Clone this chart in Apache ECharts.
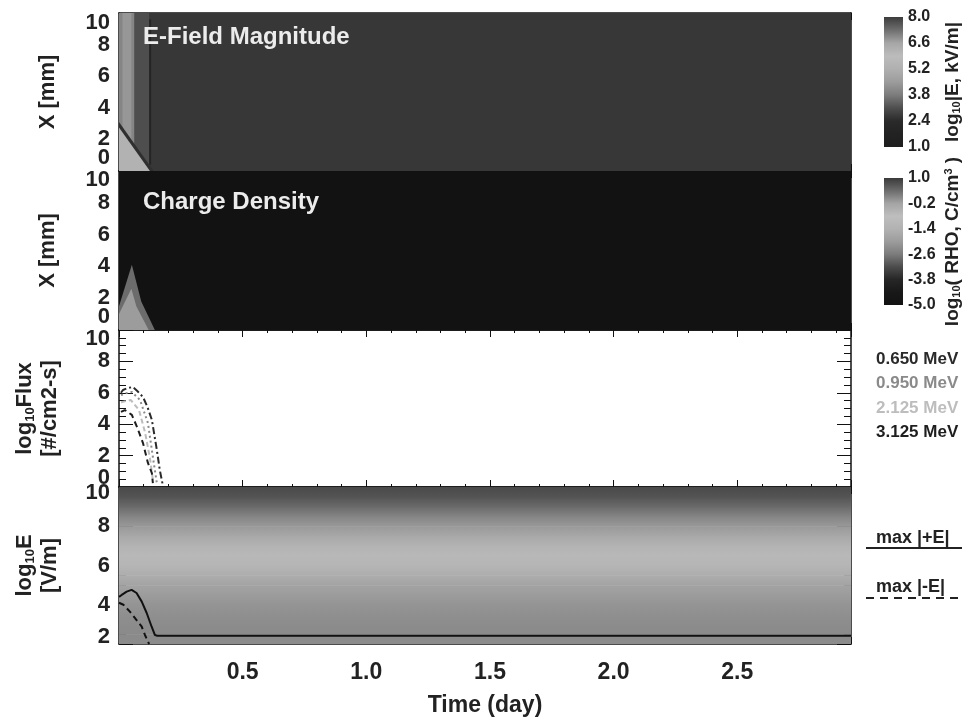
<!DOCTYPE html>
<html>
<head>
<meta charset="utf-8">
<script src="https://cdn.jsdelivr.net/npm/echarts@6/dist/echarts.min.js"></script>
<style>html,body{margin:0;padding:0;background:#fff}#c{width:971px;height:720px}</style>
</head>
<body>
<div id="c"></div>
<script>
// ---------------- data ----------------
const timeMax = 2.96;            // days
// Panel 1 : E-field magnitude, regions as polygons [time(day), X(mm)]
const eFieldRegions = [
  [[0,0],[2.96,0],[2.96,10],[0,10]],
  [[0.062,0],[0.122,0],[0.122,10],[0.062,10]],
  [[0,0],[0.062,0],[0.062,10],[0,10]],
  [[0.014,0],[0.05,0],[0.05,10],[0.014,10]],
  [[0.122,0.4],[0.13,0.4],[0.13,9.6],[0.122,9.6]],
  [[0,0],[0.14,0],[0,3.1]],
  [[0,0],[0.125,0],[0,2.75]]
];
const eFieldValues = [2.65, 3.1, 4.0, 4.4, 2.0, 2.5, 5.3];   // log10|E| kV/m
// Panel 2 : charge density regions
const rhoRegions = [
  [[0,0],[2.96,0],[2.96,10],[0,10]],
  [[0,0],[0.145,0],[0.09,1.8],[0.052,4.1],[0.03,3.0],[0,1.5]],
  [[0,0],[0.12,0],[0.07,1.5],[0.05,2.6],[0,1.0]]
];
const rhoValues = [-5.0, -2.8, -2.0];                        // log10 RHO C/cm3
// Panel 3 : flux curves [time, log10 flux]
const flux0650 = [[0.008,6.0],[0.016,6.18],[0.035,6.3],[0.056,6.37],[0.075,6.1],[0.097,5.73],[0.115,5.1],[0.133,4.27],[0.153,2.36],[0.165,1.08],[0.177,0.13]];
const flux0950 = [[0.008,5.85],[0.03,5.98],[0.052,6.05],[0.085,5.54],[0.117,4.08],[0.137,1.91],[0.153,0.25]];
const flux2125 = [[0.008,5.4],[0.048,5.54],[0.081,4.9],[0.105,3.5],[0.125,1.85],[0.137,0.45]];
const flux3125 = [[0.008,4.78],[0.024,4.9],[0.052,4.59],[0.073,3.82],[0.097,2.8],[0.117,1.53],[0.133,0.89],[0.137,0.25]];
// Panel 4 : max |E| curves [time, log10 E V/m]
const maxPosE = [[0,4.4],[0.011,4.5],[0.031,4.67],[0.051,4.76],[0.071,4.6],[0.092,4.16],[0.112,3.58],[0.132,2.88],[0.145,2.46],[0.155,2.42],[2.96,2.42]];
const maxNegE = [[0,4.1],[0.018,4.0],[0.044,3.65],[0.071,3.22],[0.092,2.88],[0.105,2.46],[0.118,2.1],[0.122,2.0]];
// Panel 4 background shading vs log10E level (gray fraction)
const bgLevels = [2.0,2.5,3.0,3.5,4.0,4.5,5.0,5.5,6.0,6.5,7.0,7.5,8.0,8.5,9.0,9.5,10.0];
const bgShade  = [0.55,0.54,0.55,0.56,0.58,0.61,0.64,0.68,0.71,0.72,0.70,0.66,0.60,0.52,0.42,0.33,0.29];
// y tick labels per panel; the end labels sit slightly inside the frame, as in the original
const yInnerLabels = [[2,4,6,8],[2,4,6,8],[2,4,6,8],[4,6,8]];
const yEndLabels   = [[0,10],[0,10],[0,10],[2,10]];
const yEndLabelAt  = [[0.82,9.37],[0.82,9.43],[0.6,9.43],[2.36,9.7]];
// colour bars
const eBarRange = [1.0, 8.0], eBarStep = 1.4;
const rhoBarRange = [-5.0, 1.0], rhoBarStep = 1.2;
const fluxNames = ['0.650 MeV','0.950 MeV','2.125 MeV','3.125 MeV'];
const eNames = ['max |+E|','max |-E|'];

// ---------------- styles ----------------
const FONT = 'Liberation Sans';
const cmapE   = ['#1e1e1e','#222222','#2a2a2a','#4e4e4e','#7c7c7c','#9c9c9c','#b0b0b0','#bcbcbc','#a6a6a6','#6e6e6e','#3c3c3c'];
const cmapRho = ['#121212','#181818','#262626','#4c4c4c','#7c7c7c','#9c9c9c','#b2b2b2','#bebebe','#a4a4a4','#6c6c6c','#3a3a3a'];
const L = 119, W = 732;
const panels = [{top:13,h:158},{top:171,h:159},{top:330,h:157},{top:487,h:157}];
const yRanges = [[0,10],[0,10],[0,10],[2,10]];

const chart = echarts.init(document.getElementById('c'), null, {renderer:'canvas'});

function polyRender(polys){
  return function(params, api){
    const pts = polys[params.dataIndex].map(p => api.coord(p));
    return {type:'polygon', shape:{points:pts}, style:{fill: api.visual('color')}};
  };
}
function barRender(range, cmap){
  return function(params, api){
    const p0 = api.coord([0, range[1]]), p1 = api.coord([1, range[0]]);
    const n = cmap.length;
    const stops = cmap.slice().reverse().map((c,i) => ({offset: i/(n-1), color: c}));
    return {type:'rect', shape:{x:p0[0], y:p0[1], width:p1[0]-p0[0], height:p1[1]-p0[1]},
      style:{fill: new echarts.graphic.LinearGradient(0,0,0,1,stops)}};
  };
}
function gray(s){ const v = Math.round(s*255); return 'rgb('+v+','+v+','+v+')'; }

const grids = panels.map(p => ({left:L, width:W, top:p.top, height:p.h}));
grids.push({left:884, width:19, top:17, height:130});
grids.push({left:884, width:19, top:178, height:127});

const axisLineStyle = {show:true, onZero:false, lineStyle:{color:'#111', width:1.5}};
const xAxes = [], yAxes = [];
panels.forEach((p,i) => {
  xAxes.push({type:'value', gridIndex:i, min:0, max:timeMax, interval:0.5,
    axisLine:axisLineStyle,
    axisTick:{show:true, inside:true, length:7, lineStyle:{color:'#111'}},
    minorTick:{show:true, splitNumber:5, length:3, lineStyle:{color:'#111'}},
    splitLine:{show:false},
    axisLabel:{show:i===3, showMinLabel:false, showMaxLabel:false, margin:17,
      formatter: v => v.toFixed(1), fontFamily:FONT, fontWeight:'bold', fontSize:23, color:'#222'},
    name: i===3 ? 'Time (day)' : '', nameLocation:'middle', nameGap:50,
    nameTextStyle:{fontFamily:FONT, fontWeight:'bold', fontSize:23, color:'#222'}
  });
});
panels.forEach((p,i) => {
  xAxes.push({type:'value', gridIndex:i, position:'top', min:0, max:timeMax, interval:0.5,
    axisLine:axisLineStyle,
    axisTick:{show:true, inside:true, length:7, lineStyle:{color:'#111'}},
    minorTick:{show:true, splitNumber:5, length:3, lineStyle:{color:'#111'}},
    splitLine:{show:false}, axisLabel:{show:false}});
});
xAxes.push({type:'value', gridIndex:4, min:0, max:1, show:false});
xAxes.push({type:'value', gridIndex:5, min:0, max:1, show:false});

const nameRich = {
  a:{fontFamily:FONT, fontWeight:'bold', fontSize:22, color:'#222', lineHeight:25},
  s:{fontFamily:FONT, fontWeight:'bold', fontSize:13, color:'#222', verticalAlign:'bottom', lineHeight:25}
};
const yNames = ['X [mm]', 'X [mm]', '{a|log}{s|10}{a|Flux}\n{a|[#/cm2-s]}', '{a|log}{s|10}{a|E}\n{a|[V/m]}'];
const yGaps = [60, 60, 57, 57];
const yLab = {fontFamily:FONT, fontWeight:'bold', fontSize:22, color:'#222'};
// 0..3 : left axes with ticks, frame and inner labels
panels.forEach((p,i) => {
  yAxes.push({type:'value', gridIndex:i, min:yRanges[i][0], max:yRanges[i][1], interval:2,
    axisLine:axisLineStyle,
    axisTick:{show:true, inside:true, length:14, lineStyle:{color:'#111'}},
    minorTick:{show:true, splitNumber:4, length:7, lineStyle:{color:'#111'}},
    splitLine:{show:false},
    axisLabel:Object.assign({margin:9, customValues:yInnerLabels[i], formatter: v => String(v)}, yLab),
    name: yNames[i], nameLocation:'middle', nameGap:yGaps[i], nameRotate:90,
    nameTextStyle: i<2 ? {fontFamily:FONT, fontWeight:'bold', fontSize:22, color:'#222'} : {rich:nameRich, align:'center'}
  });
});
// 4..7 : right frame axes
panels.forEach((p,i) => {
  yAxes.push({type:'value', gridIndex:i, position:'right', min:yRanges[i][0], max:yRanges[i][1], interval:2,
    axisLine:axisLineStyle,
    axisTick:{show:true, inside:true, length:14, lineStyle:{color:'#111'}},
    minorTick:{show:true, splitNumber:4, length:7, lineStyle:{color:'#111'}},
    splitLine:{show:false}, axisLabel:{show:false}});
});
// 8, 9 : colour bar axes
const barLab = {fontFamily:FONT, fontWeight:'bold', fontSize:16, color:'#222'};
const barRich = {
  a:{fontFamily:FONT, fontWeight:'bold', fontSize:19, color:'#222'},
  s:{fontFamily:FONT, fontWeight:'bold', fontSize:11, color:'#222', verticalAlign:'bottom'},
  u:{fontFamily:FONT, fontWeight:'bold', fontSize:11, color:'#222', verticalAlign:'top'}
};
yAxes.push({type:'value', gridIndex:4, position:'right', min:eBarRange[0], max:eBarRange[1], interval:eBarStep,
  axisLine:{show:false}, axisTick:{show:false}, splitLine:{show:false},
  axisLabel:Object.assign({margin:5, showMinLabel:true, showMaxLabel:true, formatter: v => v.toFixed(1)}, barLab),
  name:'{a|log}{s|10}{a||E, kV/m|}', nameLocation:'middle', nameRotate:90, nameGap:40,
  nameTextStyle:{rich:barRich}});
yAxes.push({type:'value', gridIndex:5, position:'right', min:rhoBarRange[0], max:rhoBarRange[1], interval:rhoBarStep,
  axisLine:{show:false}, axisTick:{show:false}, splitLine:{show:false},
  axisLabel:Object.assign({margin:5, showMinLabel:true, showMaxLabel:true, formatter: v => v.toFixed(1)}, barLab),
  name:'{a|log}{s|10}{a|( RHO, C/cm}{u|3}{a| )}', nameLocation:'middle', nameRotate:90, nameGap:40,
  nameTextStyle:{rich:barRich}});
// 10..13 : overlay axes carrying only the end labels
panels.forEach((p,i) => {
  const at = yEndLabelAt[i], txt = yEndLabels[i];
  yAxes.push({type:'value', gridIndex:i, position:'left', offset:0, min:yRanges[i][0], max:yRanges[i][1],
    axisLine:{show:false}, axisTick:{show:false}, splitLine:{show:false},
    axisLabel:Object.assign({margin:9, customValues:at, showMinLabel:true, showMaxLabel:true,
      formatter: v => { const k = at.indexOf(v); return k >= 0 ? String(txt[k]) : ''; }}, yLab)});
});

const fluxColors = ['#2a2a2a','#8a8a8a','#bdbdbd','#1e1e1e'];
const fluxDash = [[7,3,2,3],[2,3],[5,3],[6,4]];
const fluxData = [flux0650, flux0950, flux2125, flux3125];

const series = [
  {type:'custom', name:'E', xAxisIndex:0, yAxisIndex:0, clip:true, renderItem:polyRender(eFieldRegions), data:eFieldValues.map(v=>[v]), silent:true},
  {type:'custom', name:'RHO', xAxisIndex:1, yAxisIndex:1, clip:true, renderItem:polyRender(rhoRegions), data:rhoValues.map(v=>[v]), silent:true}
];
fluxData.forEach((d,i) => series.push({type:'line', name:fluxNames[i], xAxisIndex:2, yAxisIndex:2, data:d,
  symbol:'none', lineStyle:{color:fluxColors[i], width:2, type:fluxDash[i]}, itemStyle:{color:fluxColors[i]}}));
series.push({type:'custom', name:'bg', xAxisIndex:3, yAxisIndex:3, clip:true, silent:true,
  data: bgLevels.slice(0,-1).map((v,i)=>[i]),
  renderItem:function(params, api){
    const i = params.dataIndex;
    const p0 = api.coord([0, bgLevels[i+1]]), p1 = api.coord([timeMax, bgLevels[i]]);
    return {type:'rect', shape:{x:p0[0], y:p0[1], width:p1[0]-p0[0], height:p1[1]-p0[1]+0.5},
      style:{fill: new echarts.graphic.LinearGradient(0,0,0,1,[{offset:0,color:gray(bgShade[i+1])},{offset:1,color:gray(bgShade[i])}])}};
  }});
series.push({type:'line', name:eNames[0], xAxisIndex:3, yAxisIndex:3, data:maxPosE, symbol:'none', clip:true,
  lineStyle:{color:'#111', width:2}, itemStyle:{color:'#111'}});
series.push({type:'line', name:eNames[1], xAxisIndex:3, yAxisIndex:3, data:maxNegE, symbol:'none', clip:true,
  lineStyle:{color:'#111', width:2, type:[6,4]}, itemStyle:{color:'#111'}});
series.push({type:'custom', xAxisIndex:8, yAxisIndex:8, renderItem:barRender(eBarRange, cmapE), data:[[0]], silent:true});
series.push({type:'custom', xAxisIndex:9, yAxisIndex:9, renderItem:barRender(rhoBarRange, cmapRho), data:[[0]], silent:true});

const legText = {fontFamily:FONT, fontWeight:'bold', fontSize:17};
chart.setOption({
  animation:false,
  backgroundColor:'#fff',
  title:[
    {text:'E-Field Magnitude', left:138, top:20, textStyle:{fontFamily:FONT, fontWeight:'bold', fontSize:24, color:'#ececec'}},
    {text:'Charge Density', left:138, top:185, textStyle:{fontFamily:FONT, fontWeight:'bold', fontSize:24, color:'#ececec'}}
  ],
  grid:grids, xAxis:xAxes, yAxis:yAxes,
  visualMap:[
    {type:'continuous', show:false, seriesIndex:0, dimension:0, min:eBarRange[0], max:eBarRange[1], inRange:{color:cmapE}},
    {type:'continuous', show:false, seriesIndex:1, dimension:0, min:rhoBarRange[0], max:rhoBarRange[1], inRange:{color:cmapRho}}
  ],
  legend:[
    {orient:'vertical', left:866, top:345, icon:'none', itemWidth:0, itemHeight:18, itemGap:7, selectedMode:false,
      data: fluxNames.map((n,i) => ({name:n, textStyle:Object.assign({color:fluxColors[i]}, legText)}))},
    {orient:'vertical', left:866, top:523, icon:'none', itemWidth:0, itemHeight:20, itemGap:30, selectedMode:false,
      data: eNames.map(n => ({name:n, textStyle:Object.assign({color:'#222'}, legText, {fontSize:18})}))}
  ],
  graphic:[
    {type:'line', shape:{x1:866, y1:548, x2:962, y2:548}, style:{stroke:'#222', lineWidth:2}},
    {type:'line', shape:{x1:866, y1:598, x2:962, y2:598}, style:{stroke:'#222', lineWidth:2, lineDash:[8,6]}}
  ],
  series:series
});
</script>
</body>
</html>
